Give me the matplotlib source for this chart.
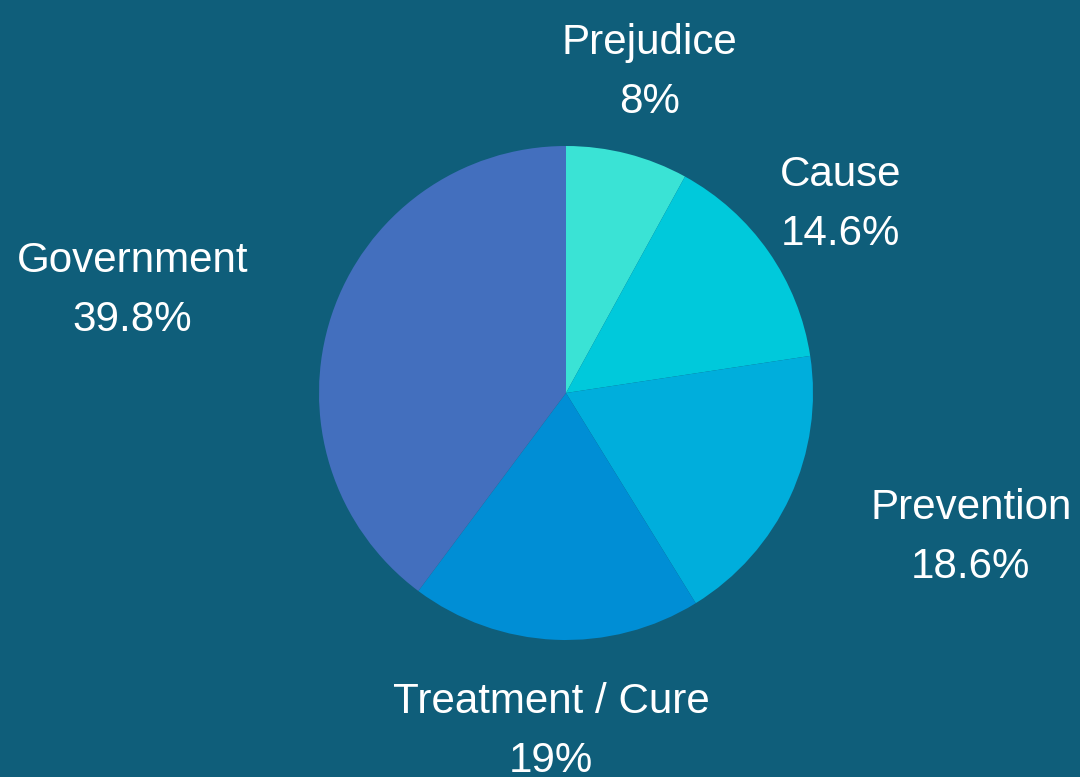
import matplotlib

matplotlib.use("Agg")
import matplotlib.pyplot as plt
import numpy as np

CATEGORIES = ["Prejudice", "Cause", "Prevention", "Treatment / Cure", "Government"]
SHARES = [8.0, 14.6, 18.6, 19.0, 39.8]
SHARE_LABELS = ["8%", "14.6%", "18.6%", "19%", "39.8%"]

COLORS = ["#3ae3d5", "#00c9db", "#00aedc", "#008ed5", "#436fbe"]
BACKGROUND = "#0f5e7a"
LABEL_ALIGN = ["center", "center", "left", "center", "right"]

W, H = 1080, 777
CENTER = (566, H - 393)
RADIUS = 247
LABEL_R = 335
FONT_SIZE = 30.3


def main() -> None:
    plt.rcParams["font.family"] = ["Liberation Sans", "DejaVu Sans"]
    fig = plt.figure(figsize=(W / 100, H / 100), dpi=100, facecolor=BACKGROUND)
    ax = fig.add_axes([0, 0, 1, 1])
    ax.set_facecolor(BACKGROUND)

    wedges, _ = ax.pie(
        SHARES,
        colors=COLORS,
        startangle=90,
        counterclock=False,
        center=CENTER,
        radius=RADIUS,
        wedgeprops={"linewidth": 0},
        frame=True,
    )
    ax.set_xlim(0, W)
    ax.set_ylim(0, H)
    ax.set_aspect("equal")
    ax.axis("off")

    for wedge, name, pct, ha in zip(wedges, CATEGORIES, SHARE_LABELS, LABEL_ALIGN):
        mid = np.deg2rad((wedge.theta1 + wedge.theta2) / 2)
        x = CENTER[0] + LABEL_R * np.cos(mid)
        y = CENTER[1] + LABEL_R * np.sin(mid)
        name_txt = ax.text(x, y + 15, name, ha=ha, va="baseline", color="white", fontsize=FONT_SIZE)
        # percentage line is centred under the name block
        fig.canvas.draw()
        bb = name_txt.get_window_extent().transformed(ax.transData.inverted())
        ax.text((bb.x0 + bb.x1) / 2, y - 44, pct, ha="center", va="baseline", color="white", fontsize=FONT_SIZE)

    fig.savefig("out.png", dpi=100, facecolor=BACKGROUND)
    plt.close(fig)


if __name__ == "__main__":
    main()
